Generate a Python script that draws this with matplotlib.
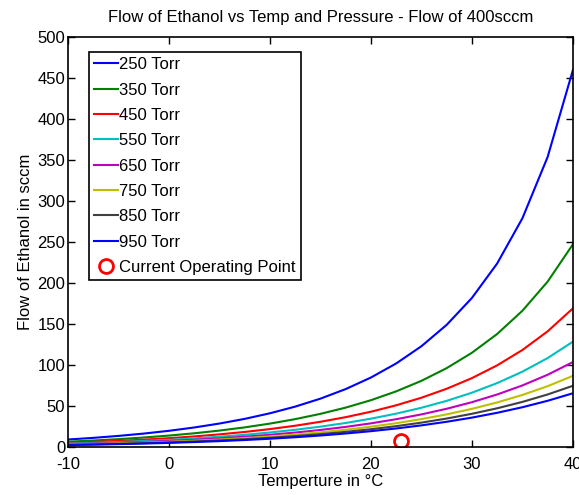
import matplotlib
matplotlib.use('Agg')
import matplotlib.pyplot as plt

plt.rcParams['font.family'] = ['Liberation Sans', 'DejaVu Sans']
plt.rcParams['axes.unicode_minus'] = False

# temperature in C
temps = [-10, -7.5, -5, -2.5, 0, 2.5, 5, 7.5, 10, 12.5, 15, 17.5,
         20, 22.5, 25, 27.5, 30, 32.5, 35, 37.5, 40]

# ethanol flow in sccm for each chamber pressure
flow_250 = [9.13, 11.13, 13.51, 16.36, 19.74, 23.78, 28.60, 34.29, 41.11, 49.24, 58.97,
            70.63, 84.73, 101.88, 122.90, 148.97, 181.77, 223.79, 278.93, 353.75, 459.62]
flow_350 = [6.48, 7.89, 9.56, 11.55, 13.91, 16.70, 20.02, 23.91, 28.53, 33.97, 40.42,
            48.03, 57.07, 67.84, 80.70, 96.17, 114.91, 137.82, 166.14, 201.71, 247.16]
flow_450 = [5.02, 6.11, 7.40, 8.93, 10.73, 12.87, 15.40, 18.35, 21.84, 25.93, 30.75,
            36.38, 43.02, 50.85, 60.08, 71.01, 84.01, 99.57, 118.30, 141.08, 169.03]
flow_550 = [4.10, 4.98, 6.03, 7.27, 8.74, 10.47, 12.51, 14.89, 17.70, 20.97, 24.81,
            29.28, 34.52, 40.66, 47.85, 56.28, 66.21, 77.94, 91.85, 108.47, 128.43]
flow_650 = [3.46, 4.21, 5.09, 6.14, 7.37, 8.82, 10.54, 12.53, 14.87, 17.60, 20.79,
            24.50, 28.83, 33.88, 39.75, 46.61, 54.63, 64.03, 75.07, 88.11, 103.55]
flow_750 = [3.00, 3.64, 4.41, 5.31, 6.37, 7.63, 9.10, 10.81, 12.83, 15.17, 17.90,
            21.06, 24.75, 29.03, 34.00, 39.78, 46.50, 54.33, 63.47, 74.18, 86.75]
flow_850 = [2.64, 3.21, 3.88, 4.68, 5.61, 6.71, 8.01, 9.51, 11.27, 13.32, 15.71,
            18.47, 21.68, 25.40, 29.71, 34.69, 40.48, 47.19, 54.98, 64.06, 74.64]
flow_950 = [2.36, 2.87, 3.47, 4.18, 5.01, 6.00, 7.15, 8.49, 10.06, 11.88, 14.00,
            16.45, 19.29, 22.57, 26.37, 30.76, 35.83, 41.70, 48.49, 56.36, 65.50]

series = [flow_250, flow_350, flow_450, flow_550, flow_650, flow_750, flow_850, flow_950]
labels = ['250 Torr', '350 Torr', '450 Torr', '550 Torr',
          '650 Torr', '750 Torr', '850 Torr', '950 Torr']
colors = ['#0000ff', '#008000', '#ff0000', '#00bfbf',
          '#bf00bf', '#bfbf00', '#404040', '#0000ff']

# current operating point
op_temp = 23
op_flow = 7

fig = plt.figure(figsize=(5.79, 4.95), dpi=100)
ax = fig.add_axes([0.1174, 0.097, 0.872, 0.828])

for ys, lab, c in zip(series, labels, colors):
    ax.plot(temps, ys, color=c, linewidth=1.5, label=lab)
ax.plot([op_temp], [op_flow], 'o', markerfacecolor='none', markeredgecolor='red',
        markersize=10, markeredgewidth=2, linestyle='none', label='Current Operating Point')

ax.set_xlim(-10, 40)
ax.set_ylim(0, 500)
ax.set_xticks(range(-10, 41, 10))
ax.set_yticks(range(0, 501, 50))
ax.tick_params(direction='in', top=True, right=True, length=5, width=1,
               labelsize=12, pad=2)
ax.tick_params(axis='x', pad=7)
for s in ax.spines.values():
    s.set_linewidth(1.2)

ax.set_title('Flow of Ethanol vs Temp and Pressure - Flow of 400sccm', fontsize=12, pad=11)
ax.set_xlabel('Temperture in \u00b0C', fontsize=12, labelpad=2)
ax.set_ylabel('Flow of Ethanol in sccm', fontsize=12, labelpad=3)

leg = ax.legend(loc='upper left', bbox_to_anchor=(0.042, 0.963), borderaxespad=0,
                fontsize=12, handlelength=1.45, handletextpad=0.05,
                labelspacing=0.62, fancybox=False,
                edgecolor='black', framealpha=1, borderpad=0.3)
leg.get_frame().set_linewidth(1.2)

plt.savefig('out.png', dpi=100)
